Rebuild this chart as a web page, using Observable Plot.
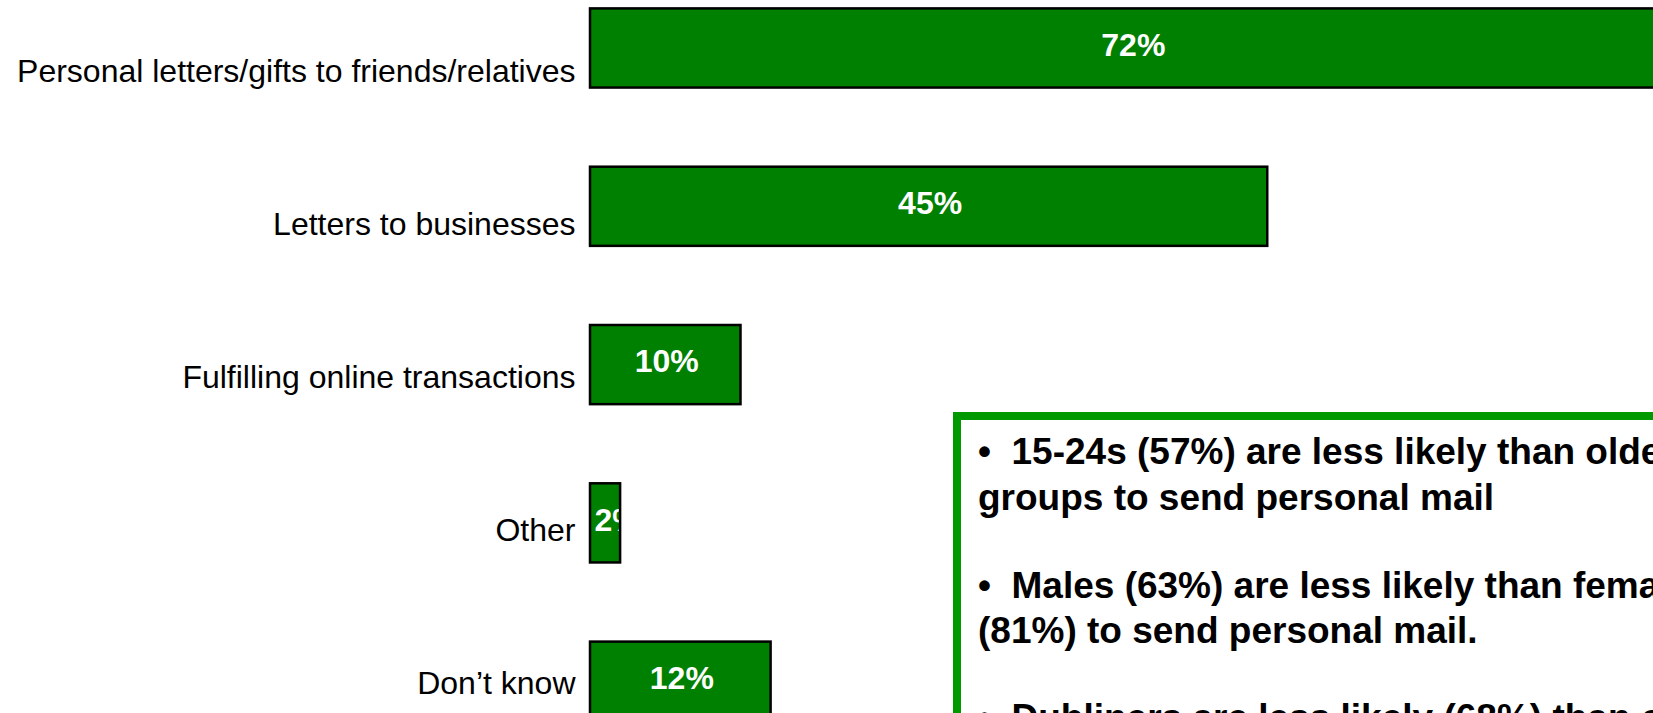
<!DOCTYPE html>
<html>
<head>
<meta charset="utf-8">
<script src="https://cdn.jsdelivr.net/npm/d3@7"></script>
<script src="https://cdn.jsdelivr.net/npm/@observablehq/plot@0.6"></script>
<style>
  html, body { margin: 0; padding: 0; background: #fff; overflow: hidden; }
  #wrap { position: relative; width: 1653px; height: 713px; overflow: hidden; font-family: "Liberation Sans", Arial, sans-serif; }
  #wrap svg { position: absolute; left: 0; top: 0; }
  #box { position: absolute; left: 953px; top: 412px; width: 1000px; height: 600px; box-sizing: border-box; border: 8px solid #009a00; background: #fff; }
  .note { position: absolute; left: 978px; font: bold 37px/46px "Liberation Sans", Arial, sans-serif; color: #000; white-space: pre; }
</style>
</head>
<body>
<div id="wrap"></div>
<script>
// ---- data ----
const categories = [
  "Personal letters/gifts to friends/relatives",
  "Letters to businesses",
  "Fulfilling online transactions",
  "Other",
  "Don\u2019t know"
];
const values = [72, 45, 10, 2, 12];
const valueLabels = ["72%", "45%", "10%", "2%", "12%"];
const noteLines = [
  "\u2022  15-24s (57%) are less likely than older age",
  "groups to send personal mail",
  "\u2022  Males (63%) are less likely than females",
  "(81%) to send personal mail.",
  "\u2022  Dubliners are less likely (68%) than others"
];

const rows = categories.map((c, i) => ({category: c, value: values[i], label: valueLabels[i]}));

const font = '"Liberation Sans", Arial, sans-serif';

// ---- bars ----
const bars = Plot.plot({
  width: 1653,
  height: 713,
  margin: 0,
  style: {background: "transparent", fontFamily: font, overflow: "hidden"},
  x: {domain: [0, 100], range: [590, 590 + 1505], axis: null},
  y: {domain: categories, range: [8.4, 720.75], paddingInner: 0.5, paddingOuter: 0, round: false, axis: null},
  marks: [
    Plot.barX(rows, {x1: 0, x2: "value", y: "category", fill: "#008000"}),
    Plot.text(rows.filter(d => d.value >= 5), {
      x: d => d.value / 2, y: "category", text: "label",
      fill: "white", fontWeight: "bold", fontSize: 32, dy: -3, dx: 1
    }),
    Plot.text(rows.filter(d => d.value < 5), {
      x: 0, y: "category", text: "label", textAnchor: "start",
      fill: "white", fontWeight: "bold", fontSize: 32, dy: -3, dx: 4
    }),
    Plot.barX(rows, {x1: 0, x2: "value", y: "category", fill: "none", stroke: "black", strokeWidth: 2.5})
  ]
});

// ---- category labels ----
const labels = Plot.plot({
  width: 1653,
  height: 713,
  marginLeft: 575,
  marginRight: 0,
  marginTop: 0,
  marginBottom: 0,
  style: {background: "transparent", fontFamily: font, color: "black"},
  x: {axis: null},
  y: {type: "point", domain: categories, range: [70.3, 683.1], padding: 0},
  marks: [
    Plot.axisY({anchor: "left", tickSize: 0, tickPadding: 0, fontSize: 32, fill: "black"})
  ]
});

const wrap = document.getElementById("wrap");
wrap.appendChild(bars);
wrap.appendChild(labels);

const box = document.createElement("div");
box.id = "box";
wrap.appendChild(box);

const tops = [429.2, 475.2, 563.2, 608.2, 695.2];
noteLines.forEach((t, i) => {
  const d = document.createElement("div");
  d.className = "note";
  d.style.top = tops[i] + "px";
  d.textContent = t;
  wrap.appendChild(d);
});
</script>
</body>
</html>
